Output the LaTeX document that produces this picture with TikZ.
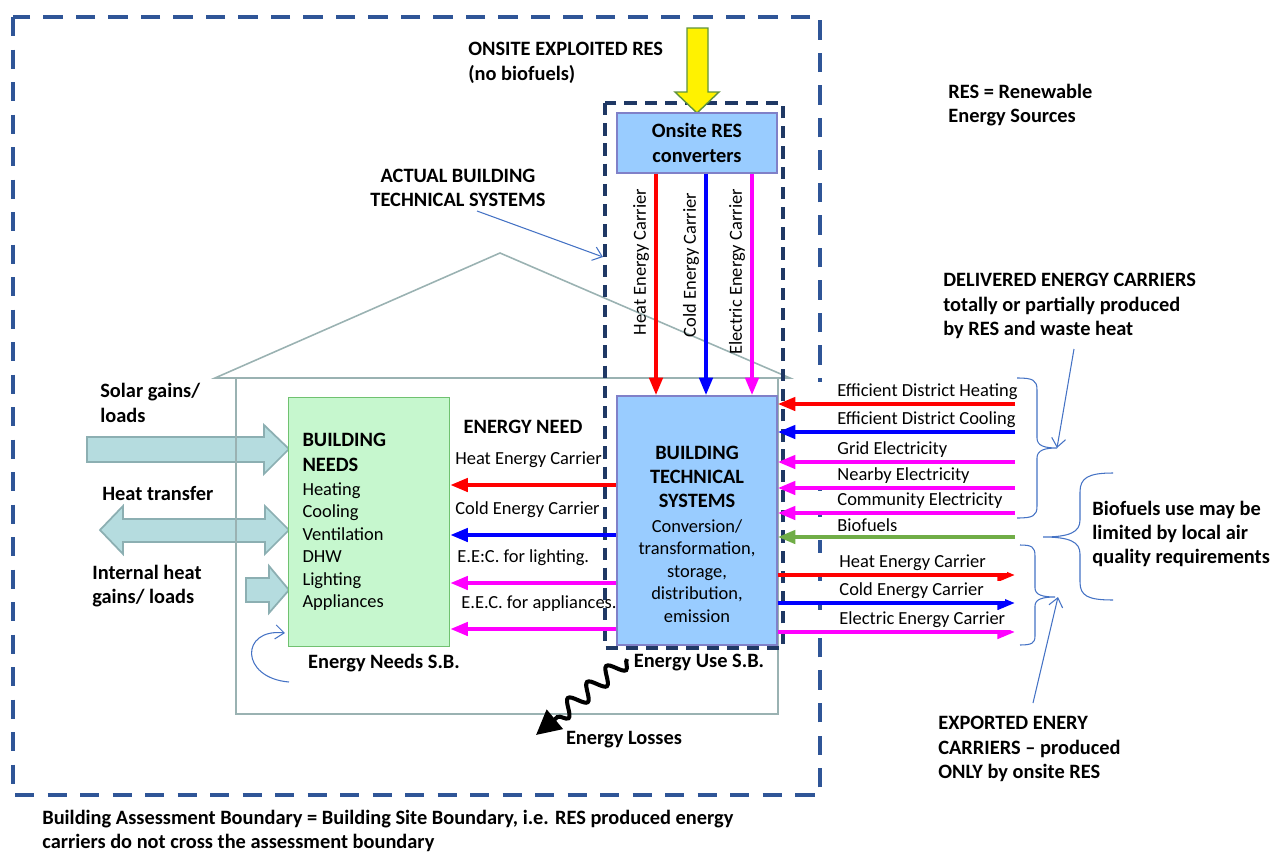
\documentclass[tikz,border=0pt]{standalone}
\usepackage{fontspec}
\setmainfont{Carlito}
\usetikzlibrary{arrows.meta,decorations.pathmorphing}
\definecolor{SiteLine}{HTML}{2F5597}
\definecolor{UseLine}{HTML}{1F3864}
\definecolor{HeatRed}{HTML}{FF0000}
\definecolor{ColdBlue}{HTML}{0000FF}
\definecolor{ElecPink}{HTML}{FF00FF}
\definecolor{BioGreen}{HTML}{70AD47}
\definecolor{SystemFill}{HTML}{99CCFF}
\definecolor{SystemLine}{HTML}{8080C8}
\definecolor{NeedsFill}{HTML}{C6F7CE}
\definecolor{NeedsLine}{HTML}{70C170}
\definecolor{GainFill}{HTML}{B5DCDF}
\definecolor{GainLine}{HTML}{8CAFB2}
\definecolor{HouseLine}{HTML}{9AB2B2}
\definecolor{NoteBlue}{HTML}{4472C4}
\newcommand{\headfont}{\fontsize{11.6}{13.9}\selectfont\bfseries}
\newcommand{\bodyfont}{\fontsize{10.5}{12.8}\selectfont\mdseries}
\tikzset{
  diagram/.style={x=0.02cm,y=-0.02cm,font=\bodyfont},
  siteboundary/.style={draw=SiteLine,line width=2.3pt,dash pattern=on 11pt off 7.5pt},
  useboundary/.style={draw=UseLine,line width=2.1pt,dash pattern=on 7pt off 4.5pt},
  house/.style={draw=HouseLine,line width=0.9pt},
  systembox/.style={draw=SystemLine,line width=0.9pt,fill=SystemFill,minimum width=3.2cm,inner sep=0pt},
  needsbox/.style={draw=NeedsLine,line width=0.9pt,fill=NeedsFill,minimum width=3.22cm,minimum height=4.98cm,
    text width=2.66cm,inner xsep=0.28cm,align=left},
  gain/.style={draw=GainLine,line width=1pt,fill=GainFill},
  carrier/.style={line width=2.2pt,-{Triangle[length=10pt,width=7.5pt]}},
  carrierlabel/.style={anchor=west,fill=white,inner xsep=12pt,inner ysep=1pt},
  heading/.style={font=\headfont,align=left,inner sep=0pt},
  note/.style={draw=NoteBlue,line width=0.6pt,-{Straight Barb[length=5pt,width=8pt]}},
  notebrace/.style={draw=NoteBlue,line width=0.6pt},
  lossarrow/.style={line width=2.3pt,-{Triangle[length=14pt,width=14pt]},
    decorate,decoration={snake,amplitude=0.16cm,segment length=0.5cm,post length=0.55cm}},
}

\begin{document}
\begin{tikzpicture}[diagram]
  \useasboundingbox (0,0) rectangle (1272,852);

  % building assessment boundary
  \draw[siteboundary] (13,17) rectangle (820,795);

  % gains and losses through the envelope
  \draw[gain] (87,437) -- (264,437) -- (264,425) -- (289,449) -- (264,474) -- (264,462) -- (87,462) -- cycle;
  \draw[gain] (100,530) -- (123,506) -- (123,519) -- (265,519) -- (265,506) -- (289,530) -- (265,554)
    -- (265,542) -- (123,542) -- (123,554) -- cycle;
  \draw[gain] (246,578) -- (269,578) -- (269,566) -- (289,590) -- (269,613) -- (269,602) -- (246,602) -- cycle;

  % house outline
  \draw[house] (215,378) -- (500,253) -- (790,378) -- cycle;
  \draw[house] (236,378) -- (236,714) -- (778,714) -- (778,378);

  % energy use system boundary
  \draw[useboundary] (605,103) rectangle (783,648);

  \draw[draw=BioGreen!85!black,line width=0.8pt,fill=yellow] (687,28) -- (708,28) -- (708,92) -- (719,92)
    -- (697,113) -- (675,92) -- (687,92) -- cycle;

  \node[systembox,minimum height=1.2cm,font=\headfont,align=center] (conv) at (697,143) {Onsite RES\\converters};
  \node[systembox,minimum height=4.98cm] (bts) at (697,520.5) {};
  \node[align=center,text width=3cm] (btstext) at (697,534)
    {\headfont BUILDING\\TECHNICAL\\SYSTEMS\\[1pt]
     \bodyfont Conversion/\\transformation,\\storage,\\distribution,\\emission};
  \node[needsbox] (needs) at (369,522)
    {\headfont BUILDING\\NEEDS\\[1pt]
     \bodyfont Heating\\Cooling\\Ventilation\\DHW\\Lighting\\Appliances};

  % carriers from the onsite converters
  \foreach \xx/\col/\ly/\lab in {656/HeatRed/262/Heat Energy Carrier,
      706/ColdBlue/265/Cold Energy Carrier,752/ElecPink/272/Electric Energy Carrier}{
    \draw[carrier,\col] (conv.south -| \xx,0) -- (bts.north -| \xx,0);
    \node[rotate=90] at (\xx-15,\ly) {\lab};
  }

  % energy need
  \node[font=\headfont] (need) at (523,427) {ENERGY NEED};
  \foreach \yy/\col/\lx/\lab in {485/HeatRed/455/Heat Energy Carrier,535/ColdBlue/455/Cold Energy Carrier,
      583/ElecPink/457/E.E:C. for lighting.,629/ElecPink/461/E.E.C. for appliances.}{
    \draw[carrier,\col] (bts.west |- 0,\yy) -- (needs.east |- 0,\yy);
    \node[anchor=west,inner sep=0pt] at (\lx,\yy-25) {\lab};
  }

  % delivered and exported carriers
  \foreach \yy/\col/\lab [count=\i] in {404/HeatRed/Efficient District Heating,
      432/ColdBlue/Efficient District Cooling,462/ElecPink/Grid Electricity,
      488/ElecPink/Nearby Electricity,513/ElecPink/Community Electricity,537/BioGreen/Biofuels}{
    \coordinate (supply\i) at (1015,\yy);
    \draw[carrier,\col] (supply\i) -- (bts.east |- supply\i);
    \node[carrierlabel] at (816,\yy-12) {\lab};
  }
  \foreach \yy/\col/\lab [count=\i] in {575/HeatRed/Heat Energy Carrier,
      603/ColdBlue/Cold Energy Carrier,632/ElecPink/Electric Energy Carrier}{
    \coordinate (export\i) at (1015,\yy);
    \draw[carrier,\col] (bts.east |- export\i) -- (export\i);
    \node[carrierlabel] at (818,\yy-12) {\lab};
  }

  % braces
  \draw[notebrace] (1017,378) .. controls (1033,378) and (1037,380) .. (1037,390) -- (1037,438)
    .. controls (1037,446) and (1045,448) .. (1057,448) .. controls (1045,448) and (1037,450) .. (1037,458)
    -- (1037,506) .. controls (1037,516) and (1033,518) .. (1017,518);
  \draw[notebrace] (1020,545) .. controls (1032,545) and (1035,547) .. (1035,556) -- (1035,588)
    .. controls (1035,595) and (1043,597) .. (1055,597) .. controls (1043,597) and (1035,599) .. (1035,606)
    -- (1035,636) .. controls (1035,643) and (1032,645) .. (1020,645);
  \draw[notebrace] (1113,473) .. controls (1088,473) and (1080,478) .. (1080,492) -- (1080,520)
    .. controls (1080,532) and (1070,537) .. (1043,537) .. controls (1070,537) and (1080,542) .. (1080,554)
    -- (1080,582) .. controls (1080,596) and (1088,600) .. (1113,600);

  % annotations
  \node[heading,anchor=west] (onsite) at (468,63) {ONSITE EXPLOITED RES\\(no biofuels)};
  \node[heading,anchor=west] (resdef) at (948,105) {RES = Renewable\\Energy Sources};
  \node[heading,align=center] (actual) at (458,188) {ACTUAL BUILDING\\TECHNICAL SYSTEMS};
  \node[heading,anchor=west] (delivered) at (943,306)
    {DELIVERED ENERGY CARRIERS\\totally or partially produced\\by RES and waste heat};
  \node[heading,anchor=west] (biofuel) at (1092,534)
    {Biofuels use may be\\limited by local air\\quality requirements};
  \node[heading,anchor=west] (exported) at (938,749)
    {EXPORTED ENERY\\CARRIERS -- produced\\ONLY by onsite RES};
  \node[heading,anchor=west] (solar) at (100,403) {Solar gains/\\loads};
  \node[heading,anchor=west] (transfer) at (102,493) {Heat transfer};
  \node[heading,anchor=west] (internal) at (92,586) {Internal heat\\gains/ loads};
  \node[heading] (needsb) at (384,663) {Energy Needs S.B.};
  \node[heading] (usesb) at (699,663) {Energy Use S.B.};
  \node[heading] (losses) at (624,740) {Energy Losses};
  \node[heading,anchor=west] (assess) at (42,831)
    {Building Assessment Boundary = Building Site Boundary, i.e. RES produced energy\\
     carriers do not cross the assessment boundary};

  \coordinate (actualfoot) at (477,211);
  \coordinate (actualtip) at (603,257);
  \coordinate (delivfoot) at (1074,349);
  \coordinate (delivtip) at (1057,448);
  \coordinate (exportfoot) at (1033,703);
  \coordinate (exporttip) at (1058,597);
  \coordinate (needsfoot) at (289,682);
  \coordinate (needstip) at (285,633);
  \draw[note] (actualfoot) -- (actualtip);
  \draw[note] (delivfoot) -- (delivtip);
  \draw[note] (exportfoot) -- (exporttip);
  \draw[note] (needsfoot) .. controls (240,678) and (240,628) .. (needstip);

  \coordinate (lossfrom) at (627,659);
  \coordinate (lossto) at (536,735);
  \draw[lossarrow] (lossfrom) -- (lossto);
\end{tikzpicture}
\end{document}
